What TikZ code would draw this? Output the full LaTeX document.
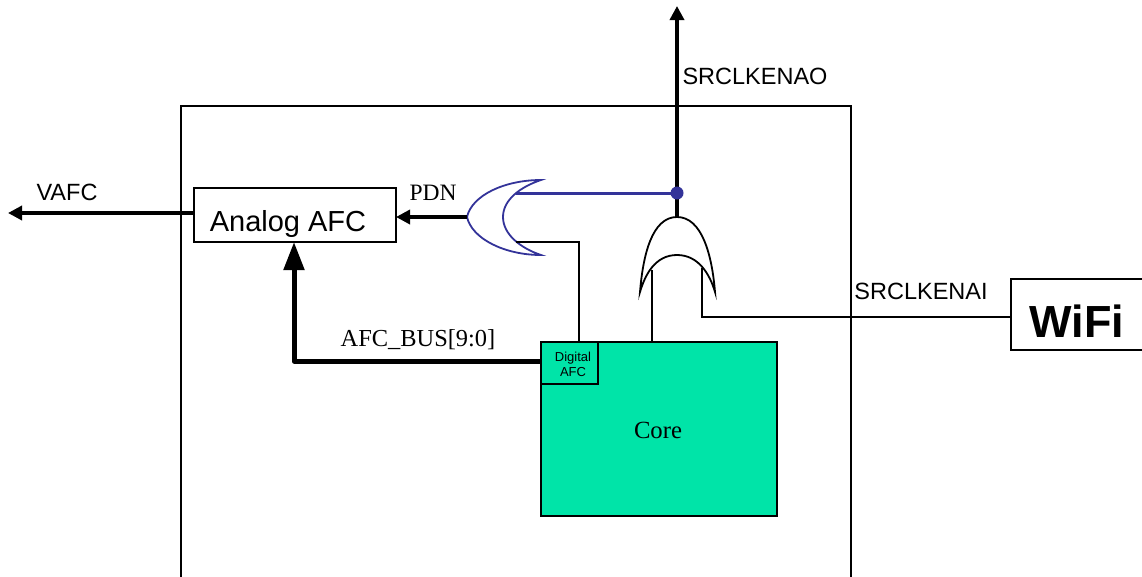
\documentclass[tikz,border=0pt]{standalone}
\usepackage{fontspec}
\setmainfont{Liberation Sans}
\newfontfamily\labelserif{Liberation Serif}
\usetikzlibrary{arrows.meta,positioning}
\definecolor{CoreFill}{HTML}{00E4A8}
\definecolor{GateBlue}{HTML}{333399}
\tikzset{
  box/.style={draw=black,line width=1.3pt,inner sep=0pt,outer sep=0pt,anchor=north west},
  wire/.style={draw=black,line width=1.3pt},
  gate/.style={line width=1.8pt,line join=miter},
  sigwire/.style={draw=black,line width=3.4pt,-{Triangle[length=14pt,width=14pt]}},
  buswire/.style={draw=black,line width=5pt,line join=round,-{Triangle[length=28pt,width=20pt]}},
  txt/.style={inner sep=0pt,font=\fontsize{23.5}{27}\selectfont},
  serif/.style={inner sep=0pt,font=\labelserif\fontsize{23.5}{27}\selectfont},
}
\begin{document}
\begin{tikzpicture}[x=1pt,y=-1pt]
\clip (0,0) rectangle (1142,576);
\node[box,minimum width=670pt,minimum height=490pt] (chip) at (181,106) {};
\node[box,minimum width=202pt,minimum height=54pt] (analog) at (194,188) {};
\node[box,fill=CoreFill,minimum width=236pt,minimum height=174pt] (core) at (541,342) {};
\node[box,line width=1.6pt,minimum width=57pt,minimum height=42pt] (digital) at (541,342) {};
\node[box,minimum width=140pt,minimum height=71pt] (wifi) at (1011,279) {};
\coordinate (pdnout) at (467,217);
\coordinate (pdnblue) at (516,193);
\coordinate (pdncore) at (516,242);
\coordinate (orout) at (677,217);
\coordinate (orcore) at (652,270);
\coordinate (orwifi) at (702,268);
\coordinate (dot) at (677,193);
\coordinate (top) at (677,6);
\coordinate (vafcend) at (8,213);
\draw[gate,draw=GateBlue] (pdnout) .. controls (472,195) and (505,180) .. (541,180)
  .. controls (520,187) and (503,200) .. (503,217)
  .. controls (503,234) and (520,248) .. (541,255)
  .. controls (505,255) and (472,239) .. (pdnout);
\draw[gate,draw=black] (orout) .. controls (652,217) and (643,255) .. (640,292)
  .. controls (645,275) and (655,255) .. (677,255)
  .. controls (699,255) and (710,275) .. (715,292)
  .. controls (712,255) and (702,217) .. (orout);
\draw[sigwire] (orout) -- (top);
\draw[draw=GateBlue,line width=3pt] (pdnblue) -- (dot);
\fill[GateBlue] (dot) circle (6.5);
\draw[sigwire] (pdnout) -- (pdnout-|analog.east);
\draw[sigwire] (vafcend-|analog.west) -- (vafcend);
\draw[buswire] (core.west|-0,361) -- (294,361) -- (294,242);
\draw[wire] (579,342) -- (579,242) -- (pdncore);
\draw[wire] (652,342) -- (orcore);
\draw[wire] (orwifi) -- (702,317) -- (wifi.west|-0,317);
\node[txt] (vafc) at (67,192) {VAFC};
\node[txt] (srcao) at (755,76) {SRCLKENAO};
\node[txt] (srcai) at (921,291) {SRCLKENAI};
\node[txt,font=\fontsize{29}{32}\selectfont] (analogtxt) at (288,224) {Analog AFC};
\node[txt,font=\bfseries\fontsize{45}{50}\selectfont] (wifitxt) at (1077,321) {WiFi};
\node[serif] (pdn) at (433,193) {PDN};
\node[serif,font=\labelserif\fontsize{24.4}{28}\selectfont] (afcbus) at (418,340) {AFC\_BUS[9:0]};
\node[serif,font=\labelserif\fontsize{24.7}{28}\selectfont] (coretxt) at (658,430) {Core};
\node[txt,font=\fontsize{13}{15}\selectfont,align=center] (digitaltxt) at (573,364.5) {Digital\\AFC};
\end{tikzpicture}
\end{document}
